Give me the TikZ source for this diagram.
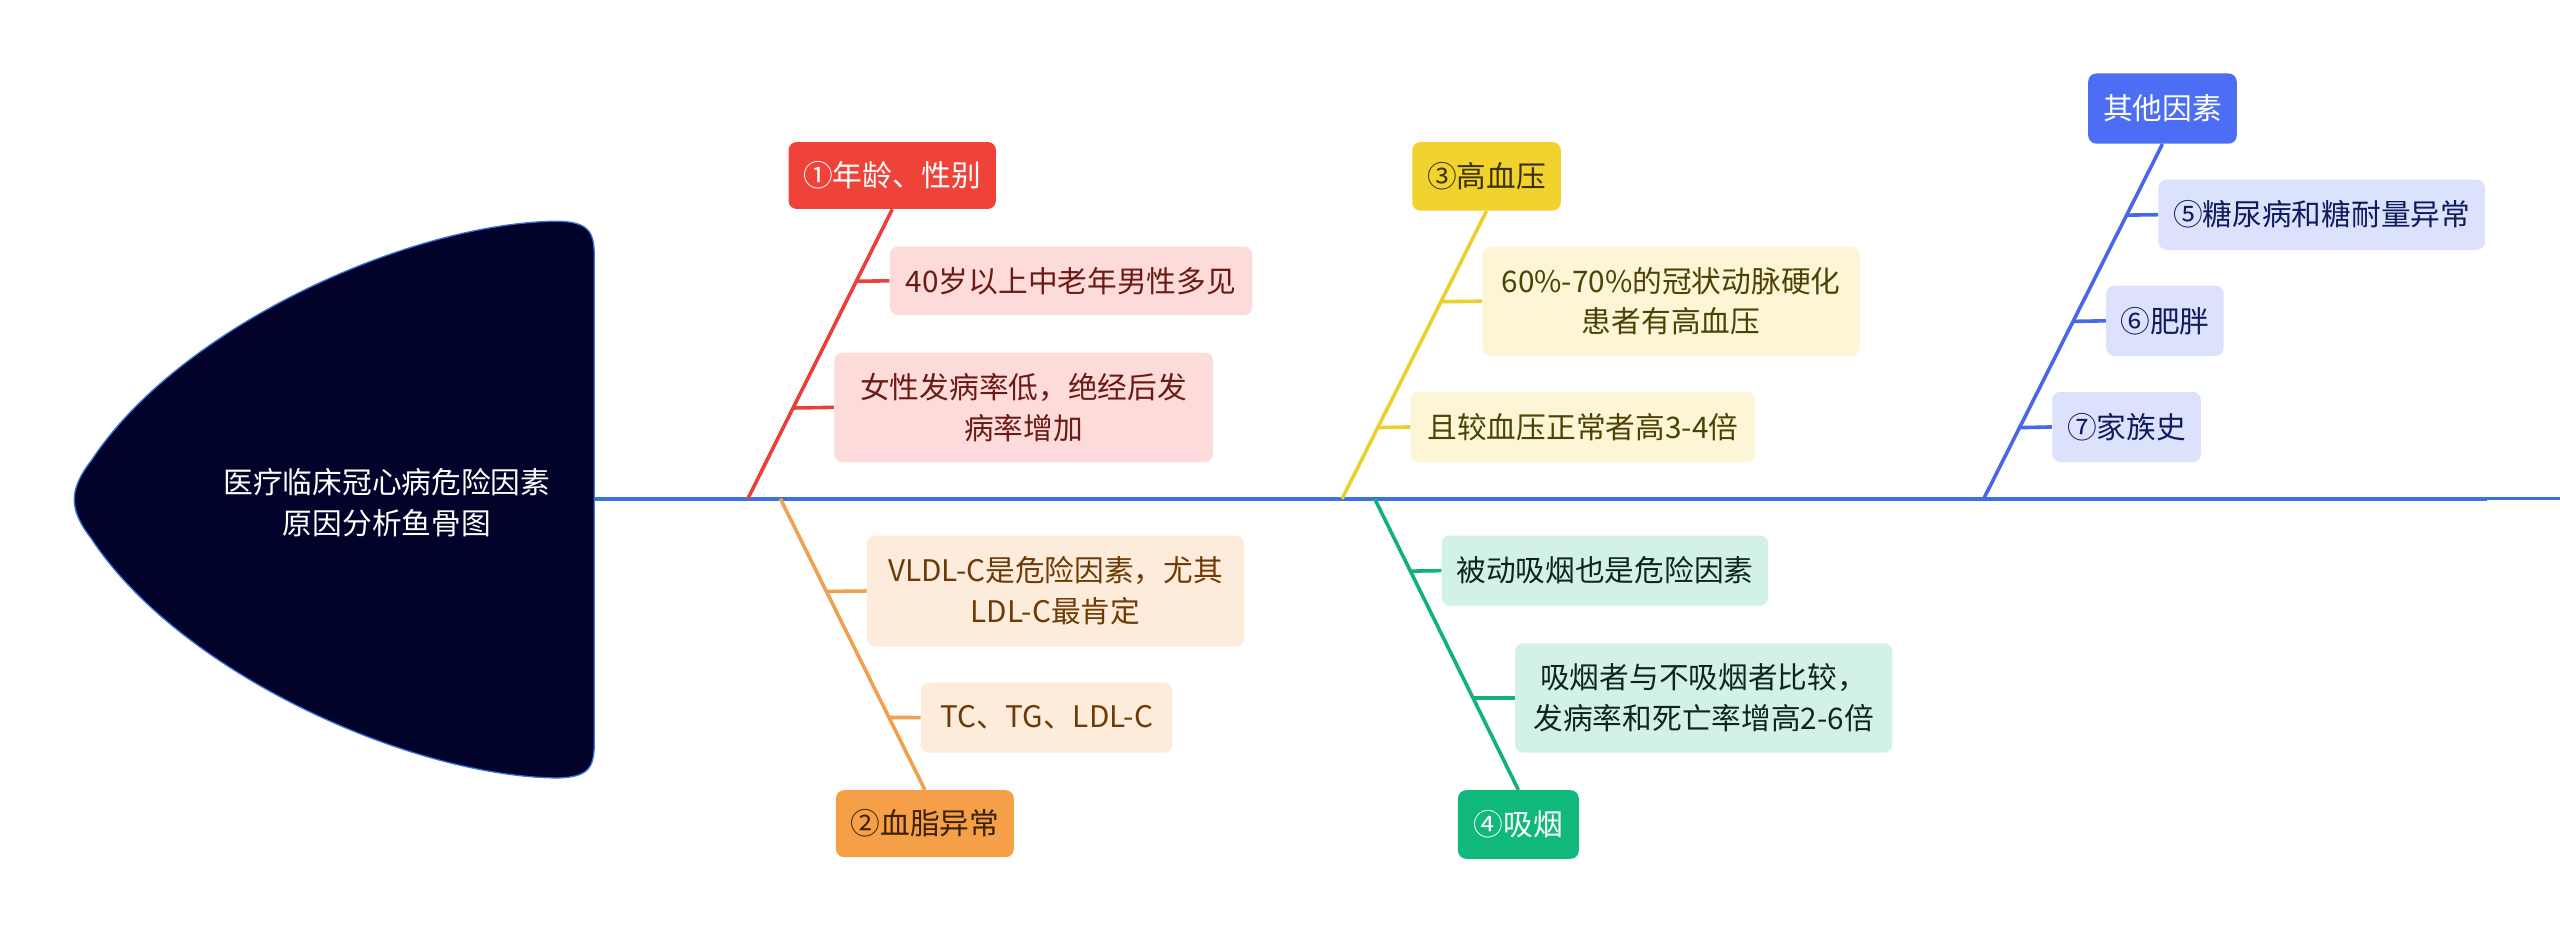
\documentclass[tikz,border=0pt]{standalone}
\usepackage{fontspec}
\setmainfont{Noto Sans CJK SC}
\usetikzlibrary{calc}
\definecolor{spinec}{HTML}{3A73DF}
\definecolor{headfill}{HTML}{01032B}
\definecolor{headline}{HTML}{3D6FD8}
\definecolor{redl}{HTML}{E8403A}
\definecolor{redb}{HTML}{EF4238}
\definecolor{reds}{HTML}{FDDBDA}
\definecolor{redt}{HTML}{6B1A14}
\definecolor{orl}{HTML}{F0A04F}
\definecolor{orb}{HTML}{F5A048}
\definecolor{ors}{HTML}{FDECDC}
\definecolor{ort}{HTML}{6E3A05}
\definecolor{orbt}{HTML}{3B2204}
\definecolor{yel}{HTML}{EBCF2D}
\definecolor{yeb}{HTML}{F2D22E}
\definecolor{yes}{HTML}{FCF6D6}
\definecolor{yet}{HTML}{4D4203}
\definecolor{yebt}{HTML}{3A3103}
\definecolor{grl}{HTML}{12B07C}
\definecolor{grb}{HTML}{10B97B}
\definecolor{grs}{HTML}{D2F2E5}
\definecolor{grt}{HTML}{10261D}
\definecolor{bll}{HTML}{4A67EC}
\definecolor{blb}{HTML}{4D6DF5}
\definecolor{bls}{HTML}{DCE2FB}
\definecolor{blt}{HTML}{111C5E}
\tikzset{
  bx/.style 2 args={rounded corners=5pt, inner sep=0pt, align=center, minimum width=#1pt, minimum height=#2pt},
  spineline/.style={draw=spinec, line width=2.4pt},
  bone/.style={line width=2.2pt},
}
\begin{document}
\begin{tikzpicture}[x=1pt,y=-1pt,font=\fontsize{18.2}{25}\selectfont]
\useasboundingbox (0,0) rectangle (1568,572);
% head
\path[draw=headline, fill=headfill, line width=0.8pt]
  (340,135.5) .. controls (250,137) and (110,200) .. (56,282)
  .. controls (42,300) and (42,312) .. (56,330)
  .. controls (110,412) and (250,475) .. (340,476.5)
  .. controls (362,476.5) and (364,469) .. (364,454)
  -- (364,158) .. controls (364,143) and (362,135.5) .. (340,135.5) -- cycle;
\node[text=white, align=center] (head) at (237,308) {医疗临床冠心病危险因素\\原因分析鱼骨图};
% spine
\coordinate (headR) at (364,305.5);
\coordinate (spR) at (1523,305.5);
\coordinate (spE) at (1568,305.5);
\draw[spineline] (headR) -- (spR);
\draw[draw=spinec, line width=1.6pt] (spR) -- (spE);
\coordinate (sA) at (458,305.5);
\coordinate (sB) at (478,305.5);
\coordinate (sC) at (822,305.5);
\coordinate (sD) at (842,305.5);
\coordinate (sE) at (1215,305.5);
% boxes
\node[bx={127}{41}, fill=redb, text=white] (A) at (546.5,107.5) {①年龄、性别};
\node[bx={222}{42}, fill=reds, text=redt] (A1) at (656,172) {40岁以上中老年男性多见};
\node[bx={232}{67}, fill=reds, text=redt] (A2) at (627,249.5) {女性发病率低，绝经后发\\病率增加};
\node[bx={109}{41}, fill=orb, text=orbt] (B) at (566.5,504.5) {②血脂异常};
\node[bx={231}{68}, fill=ors, text=ort] (B1) at (646.5,362) {VLDL-C是危险因素，尤其\\LDL-C最肯定};
\node[bx={154}{43}, fill=ors, text=ort] (B2) at (641,439.5) {TC、TG、LDL-C};
\node[bx={91}{42}, fill=yeb, text=yebt] (C) at (910.5,108) {③高血压};
\node[bx={231}{67}, fill=yes, text=yet] (C1) at (1023.5,184.5) {60\%-70\%的冠状动脉硬化\\患者有高血压};
\node[bx={211}{43}, fill=yes, text=yet] (C2) at (969.5,261.5) {且较血压正常者高3-4倍};
\node[bx={74}{42}, fill=grb, text=white] (D) at (930,505) {④吸烟};
\node[bx={200}{43}, fill=grs, text=grt] (D1) at (983,349.5) {被动吸烟也是危险因素};
\node[bx={231}{67}, fill=grs, text=grt] (D2) at (1043.5,427.5) {吸烟者与不吸烟者比较，\\发病率和死亡率增高2-6倍};
\node[bx={91}{43}, fill=blb, text=white] (E) at (1324.5,66.5) {其他因素};
\node[bx={200}{43}, fill=bls, text=blt] (E1) at (1422,131.5) {⑤糖尿病和糖耐量异常};
\node[bx={72}{43}, fill=bls, text=blt] (E2) at (1326,196.5) {⑥肥胖};
\node[bx={91}{43}, fill=bls, text=blt] (E3) at (1302.5,261.5) {⑦家族史};
% bones
\draw[bone, redl] (sA) -- (A.south);
\draw[bone, redl] ($(sA)!0.7514!(A.south)$) -- (A1.west);
\draw[bone, redl] ($(sA)!0.3136!(A.south)$) -- (A2.west);
\draw[bone, orl] (sB) -- (B.north);
\draw[bone, orl] ($(sB)!0.3184!(B.north)$) -- (B1.west);
\draw[bone, orl] ($(sB)!0.7514!(B.north)$) -- (B2.west);
\draw[bone, yel] (sC) -- (C.south);
\draw[bone, yel] ($(sC)!0.6847!(C.south)$) -- (C1.west);
\draw[bone, yel] ($(sC)!0.2472!(C.south)$) -- (C2.west);
\draw[bone, grl] (sD) -- (D.north);
\draw[bone, grl] ($(sD)!0.2486!(D.north)$) -- (D1.west);
\draw[bone, grl] ($(sD)!0.6844!(D.north)$) -- (D2.west);
\draw[bone, bll] (sE) -- (E.south);
\draw[bone, bll] ($(sE)!0.7995!(E.south)$) -- (E1.west);
\draw[bone, bll] ($(sE)!0.5!(E.south)$) -- (E2.west);
\draw[bone, bll] ($(sE)!0.2005!(E.south)$) -- (E3.west);
\end{tikzpicture}
\end{document}
